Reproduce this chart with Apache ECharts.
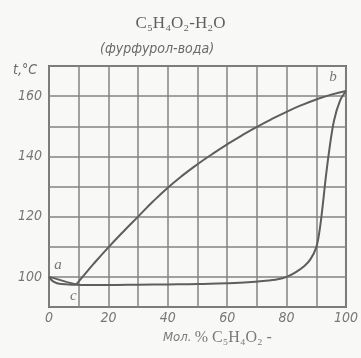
<!DOCTYPE html>
<html>
<head>
<meta charset="utf-8">
<script src="https://cdn.jsdelivr.net/npm/echarts@6/dist/echarts.min.js"></script>
<style>html,body{margin:0;padding:0;background:#f8f8f6;}#c{width:361px;height:358px;}</style>
</head>
<body>
<div id="c"></div>
<script>
// Upper (vapour) curve from c to b
const vaporX = [9.2, 12, 15, 20, 25, 30, 35, 40, 45, 50, 55, 60, 65, 70, 75, 80, 85, 90, 95, 100];
const vaporT = [97.5, 100.8, 104.3, 109.8, 115, 120, 125, 129.6, 133.7, 137.4, 140.8, 144, 147, 149.8, 152.4, 154.8, 157, 158.9, 160.5, 161.7];
// Small lens a -> c (vapour branch, water side)
const lensUpX = [0, 3, 6, 9.2];
const lensUpT = [100, 99.2, 98.3, 97.5];
// Lower branch a -> c and furfural-rich liquid curve up to b
const liquidX = [0, 1.5, 4, 9.2, 15, 20, 30, 40, 50, 60, 67, 72, 77, 80, 83, 86, 88, 90, 91.2, 92.2, 93.2, 94.5, 96, 98, 100];
const liquidT = [100, 98.4, 97.6, 97.4, 97.3, 97.3, 97.4, 97.5, 97.6, 97.9, 98.2, 98.6, 99.2, 100, 101.5, 103.6, 105.8, 109.8, 116, 124, 133, 143, 152, 158.5, 161.7];
// Point annotations
const pointNames = ['a', 'b', 'c'];
const pointX = [0, 100, 9.2];
const pointT = [100, 161.7, 97.5];
// Axes
const yLabels = [100, 120, 140, 160];
const xLabels = [0, 20, 40, 60, 80, 100];

const zip = (xs, ys) => xs.map((x, i) => [x, ys[i]]);
const lineColor = '#5e5e5e';
const gridColor = '#858585';
const txt = '#777';
const labFont = '"DejaVu Sans Condensed","Liberation Sans Narrow","Liberation Sans",sans-serif';
const offsets = {a: [9, -12], b: [-13, -14], c: [-3, 12]};

const chart = echarts.init(document.getElementById('c'));
chart.setOption({
  backgroundColor: '#f8f8f6',
  animation: false,
  grid: {left: 49, right: 12, top: 66, bottom: 51, show: true, borderColor: '#666', borderWidth: 2, backgroundColor: 'transparent'},
  xAxis: {
    type: 'value', min: 0, max: 100, interval: 10,
    axisLine: {show: false}, axisTick: {show: false},
    splitLine: {show: true, lineStyle: {color: gridColor, width: 1.5}},
    axisLabel: {
      margin: 4, color: txt, fontSize: 14, fontStyle: 'italic', fontFamily: labFont,
      formatter: v => xLabels.includes(v) ? String(v) : ''
    }
  },
  yAxis: {
    type: 'value', min: 90, max: 170, interval: 10,
    axisLine: {show: false}, axisTick: {show: false},
    splitLine: {show: true, lineStyle: {color: gridColor, width: 1.5}},
    axisLabel: {
      margin: 7, color: txt, fontSize: 14, fontStyle: 'italic', fontFamily: labFont,
      formatter: v => yLabels.includes(v) ? String(v) : ''
    }
  },
  graphic: [
    {type: 'text', left: 'center', top: 15, style: {text: 'C₅H₄O₂-H₂O', font: '17px "Liberation Serif","DejaVu Serif",serif', fill: '#606060'}},
    {type: 'text', left: 100, top: 42, style: {text: '(фурфурол-вода)', font: 'italic 14px ' + labFont, fill: '#6a6a6a'}},
    {type: 'text', left: 13, top: 63, style: {text: 't,°C', font: 'italic 14px ' + labFont, fill: '#6a6a6a'}},
    {type: 'text', left: 163, top: 330, style: {
      text: '{a|Мол.} {b|% C₅H₄O₂ -}',
      rich: {
        a: {font: 'italic 13px ' + labFont, fill: '#7a7a7a'},
        b: {font: '16px "Liberation Serif","DejaVu Serif",serif', fill: '#7a7a7a'}
      }
    }}
  ],
  series: [
    {type: 'line', data: zip(vaporX, vaporT), smooth: 0.5, showSymbol: false, lineStyle: {color: lineColor, width: 2}},
    {type: 'line', data: zip(lensUpX, lensUpT), smooth: 0.4, showSymbol: false, lineStyle: {color: lineColor, width: 1.8}},
    {type: 'line', data: zip(liquidX, liquidT), smooth: 0.35, showSymbol: false, lineStyle: {color: lineColor, width: 2}},
    {
      type: 'scatter', symbolSize: 0,
      data: pointNames.map((n, i) => ({value: [pointX[i], pointT[i]], name: n})),
      label: {
        show: true, position: 'inside',
        formatter: p => p.name,
        color: '#555', fontSize: 15, fontStyle: 'italic', fontFamily: '"Liberation Serif","DejaVu Serif",serif'
      },
      labelLayout: p => {
        const n = pointNames[p.dataIndex];
        return {dx: offsets[n][0], dy: offsets[n][1]};
      }
    }
  ]
});
</script>
</body>
</html>
